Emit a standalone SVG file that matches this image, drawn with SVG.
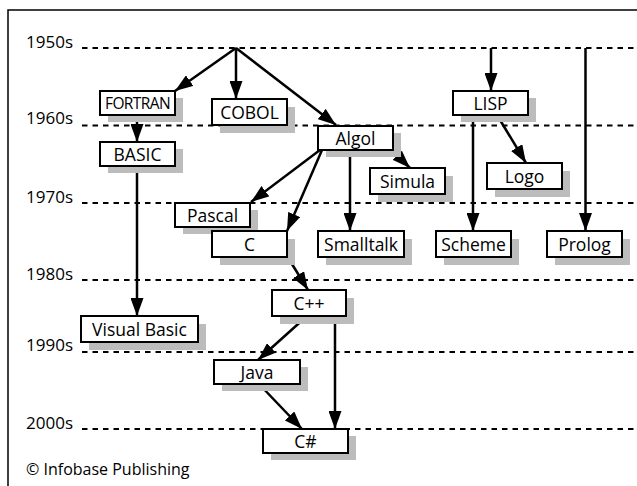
<svg xmlns="http://www.w3.org/2000/svg" width="637" height="486" viewBox="0 0 637 486">
<style>
.frame{fill:none;stroke:#000;stroke-width:1.5}
.era{stroke:#000;stroke-width:2;stroke-dasharray:5.5 5}
.yr{font-family:"Open Sans","Noto Sans",sans-serif;font-size:17px;fill:#000}
.shadow{fill:#bcbcbc}
.box{fill:#fff;stroke:#000;stroke-width:2}
.lbl{font-family:"Open Sans","Noto Sans",sans-serif;font-size:17.5px;fill:#000;text-anchor:middle}
.conn{fill:none;stroke:#000;stroke-width:2.5;marker-end:url(#ah)}
.copy{font-family:"Open Sans","Noto Sans",sans-serif;font-size:16px;fill:#000}
</style>
<defs>
<marker id="ah" markerUnits="userSpaceOnUse" markerWidth="18" markerHeight="13" refX="18" refY="6.5" orient="auto">
<path d="M0,0 L18,6.5 L0,13 z" fill="#000"/>
</marker>
</defs>
<rect width="637" height="486" fill="#fff"/>
<path class="frame" d="M8,486 V10 H637"/>
<g id="eras">
<line class="era" x1="82" y1="48" x2="637" y2="48"/>
<line class="era" x1="82" y1="125.5" x2="637" y2="125.5"/>
<line class="era" x1="82" y1="203" x2="637" y2="203"/>
<line class="era" x1="82" y1="280" x2="637" y2="280"/>
<line class="era" x1="82" y1="352" x2="637" y2="352"/>
<line class="era" x1="82" y1="429" x2="637" y2="429"/>
<text class="yr" x="26" y="48">1950s</text>
<text class="yr" x="26" y="124">1960s</text>
<text class="yr" x="26" y="202.5">1970s</text>
<text class="yr" x="26" y="280">1980s</text>
<text class="yr" x="26" y="351">1990s</text>
<text class="yr" x="26" y="429">2000s</text>
</g>
<g id="connectors">
<line class="conn" x1="236" y1="48" x2="175" y2="91"/>
<line class="conn" x1="236" y1="48" x2="236" y2="99"/>
<line class="conn" x1="236" y1="48" x2="336" y2="125"/>
<line class="conn" x1="137" y1="115" x2="137" y2="142"/>
<line class="conn" x1="137" y1="165" x2="137" y2="316"/>
<line class="conn" x1="491" y1="48" x2="491" y2="91"/>
<line class="conn" x1="473" y1="115" x2="473" y2="231"/>
<line class="conn" x1="497" y1="115" x2="526" y2="163"/>
<line class="conn" x1="585.5" y1="48" x2="585.5" y2="231"/>
<line class="conn" x1="392" y1="150" x2="410" y2="168"/>
<line class="conn" x1="320" y1="150" x2="251" y2="202"/>
<line class="conn" x1="322" y1="150" x2="287" y2="231"/>
<line class="conn" x1="350" y1="150" x2="350" y2="231"/>
<line class="conn" x1="287" y1="256" x2="308" y2="290"/>
<line class="conn" x1="307" y1="316" x2="258" y2="360"/>
<line class="conn" x1="335" y1="316" x2="335" y2="429"/>
<line class="conn" x1="259" y1="384" x2="302" y2="429"/>
</g>
<g id="fortran"><rect class="shadow" x="108" y="98" width="75" height="24"/><rect class="box" x="100" y="91" width="75" height="24"/><text class="lbl" x="137.5" y="108.5" style="font-size:15.5px;letter-spacing:-0.6px">FORTRAN</text></g>
<g id="cobol"><rect class="shadow" x="220" y="107" width="75" height="26"/><rect class="box" x="212" y="99" width="75" height="26"/><text class="lbl" x="249.5" y="118.5">COBOL</text></g>
<g id="basic"><rect class="shadow" x="108" y="149" width="75" height="24"/><rect class="box" x="100" y="142" width="75" height="24"/><text class="lbl" x="137.5" y="160.5">BASIC</text></g>
<g id="lisp"><rect class="shadow" x="461" y="98" width="75" height="24"/><rect class="box" x="453" y="91" width="75" height="24"/><text class="lbl" x="490.5" y="109.5">LISP</text></g>
<g id="algol"><rect class="shadow" x="326" y="133" width="75" height="24"/><rect class="box" x="318" y="126" width="75" height="24"/><text class="lbl" x="355.5" y="144.5">Algol</text></g>
<g id="simula"><rect class="shadow" x="378" y="176" width="75" height="26"/><rect class="box" x="370" y="168" width="75" height="26"/><text class="lbl" x="407.5" y="187.5">Simula</text></g>
<g id="logo"><rect class="shadow" x="495" y="171" width="75" height="26"/><rect class="box" x="487" y="163" width="75" height="26"/><text class="lbl" x="524.5" y="182.5">Logo</text></g>
<g id="pascal"><rect class="shadow" x="183" y="210" width="75" height="24"/><rect class="box" x="175" y="203" width="75" height="24"/><text class="lbl" x="212.5" y="221.5">Pascal</text></g>
<g id="c"><rect class="shadow" x="220" y="239" width="75" height="26"/><rect class="box" x="212" y="231" width="75" height="26"/><text class="lbl" x="249.5" y="250.5">C</text></g>
<g id="smalltalk"><rect class="shadow" x="326" y="239" width="86" height="26"/><rect class="box" x="318" y="231" width="86" height="26"/><text class="lbl" x="361" y="250.5">Smalltalk</text></g>
<g id="scheme"><rect class="shadow" x="444" y="239" width="75" height="26"/><rect class="box" x="436" y="231" width="75" height="26"/><text class="lbl" x="473.5" y="250.5">Scheme</text></g>
<g id="prolog"><rect class="shadow" x="555" y="239" width="75" height="26"/><rect class="box" x="547" y="231" width="75" height="26"/><text class="lbl" x="584.5" y="250.5">Prolog</text></g>
<g id="cpp"><rect class="shadow" x="280" y="298" width="74" height="26"/><rect class="box" x="272" y="290" width="74" height="26"/><text class="lbl" x="309" y="309.5">C++</text></g>
<g id="visualbasic"><rect class="shadow" x="89" y="324" width="117" height="26"/><rect class="box" x="81" y="316" width="117" height="26"/><text class="lbl" x="139.5" y="335.5">Visual Basic</text></g>
<g id="java"><rect class="shadow" x="222" y="367" width="86" height="24"/><rect class="box" x="214" y="360" width="86" height="24"/><text class="lbl" x="257" y="378.5">Java</text></g>
<g id="csharp"><rect class="shadow" x="271" y="436" width="85" height="24"/><rect class="box" x="263" y="429" width="85" height="24"/><text class="lbl" x="305.5" y="447.5">C#</text></g>
<text class="copy" x="26" y="475">© Infobase Publishing</text>
</svg>
